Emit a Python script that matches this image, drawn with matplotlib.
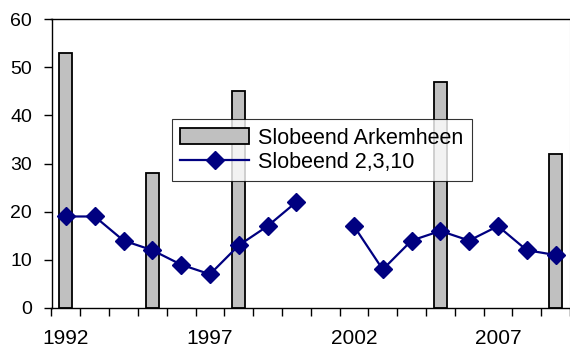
import numpy as np
import matplotlib
matplotlib.use("Agg")
import matplotlib.pyplot as plt

plt.rcParams["font.family"] = ["Liberation Sans", "DejaVu Sans"]

years = list(range(1992, 2010))
arkemheen = [53, None, None, 28, None, None, 45, None, None, None,
             None, None, None, 47, None, None, None, 32]
telling = [19, 19, 14, 12, 9, 7, 13, 17, 22, None,
           17, 8, 14, 16, 14, 17, 12, 11]
label_years = [1992, 1997, 2002, 2007]

x = np.arange(len(years))
bar_vals = np.array([np.nan if v is None else v for v in arkemheen], dtype=float)
line_vals = np.array([np.nan if v is None else v for v in telling], dtype=float)

fig = plt.figure(figsize=(5.7, 3.51), dpi=100)
ax = fig.add_axes([51.5 / 570, 1 - 308 / 351, 518.5 / 570, 289 / 351])

has_bar = ~np.isnan(bar_vals)
bars = ax.bar(x[has_bar], bar_vals[has_bar], width=0.45, color="#c0c0c0",
              edgecolor="black", linewidth=1.3, label="Slobeend Arkemheen", zorder=2)
line, = ax.plot(x, line_vals, color="#000080", linewidth=1.6, marker="D",
                markersize=9, label="Slobeend 2,3,10", zorder=3)

ax.set_xlim(-0.5, len(years) - 0.5)
ax.set_ylim(0, 60)
ax.set_yticks(range(0, 61, 10))

# category boundaries get tick marks, labels sit at the category centres
ax.set_xticks(np.arange(-0.5, len(years), 1.0), minor=True)
ax.set_xticks([years.index(y) for y in label_years])
ax.set_xticklabels([str(y) for y in label_years])
ax.tick_params(axis="x", which="minor", length=6, width=1, direction="out")
ax.tick_params(axis="x", which="major", length=0, pad=15, labelsize=15)
ax.tick_params(axis="y", length=6, width=1, direction="out", labelsize=14, pad=8)

for side in ["left", "bottom", "top"]:
    ax.spines[side].set_color("black")
    ax.spines[side].set_linewidth(1.0)
ax.spines["right"].set_color("#c8c8c8")

leg = ax.legend([bars, line], ["Slobeend Arkemheen", "Slobeend 2,3,10"],
                loc="upper left", bbox_to_anchor=(0.232, 0.654), fontsize=15.5,
                frameon=True, fancybox=False, edgecolor="black",
                handlelength=3.2, handleheight=0.8, borderpad=0.4,
                labelspacing=0.15, handletextpad=0.4, borderaxespad=0)
leg.get_frame().set_linewidth(0.8)
leg.set_zorder(5)

fig.savefig("out.png", dpi=100)
